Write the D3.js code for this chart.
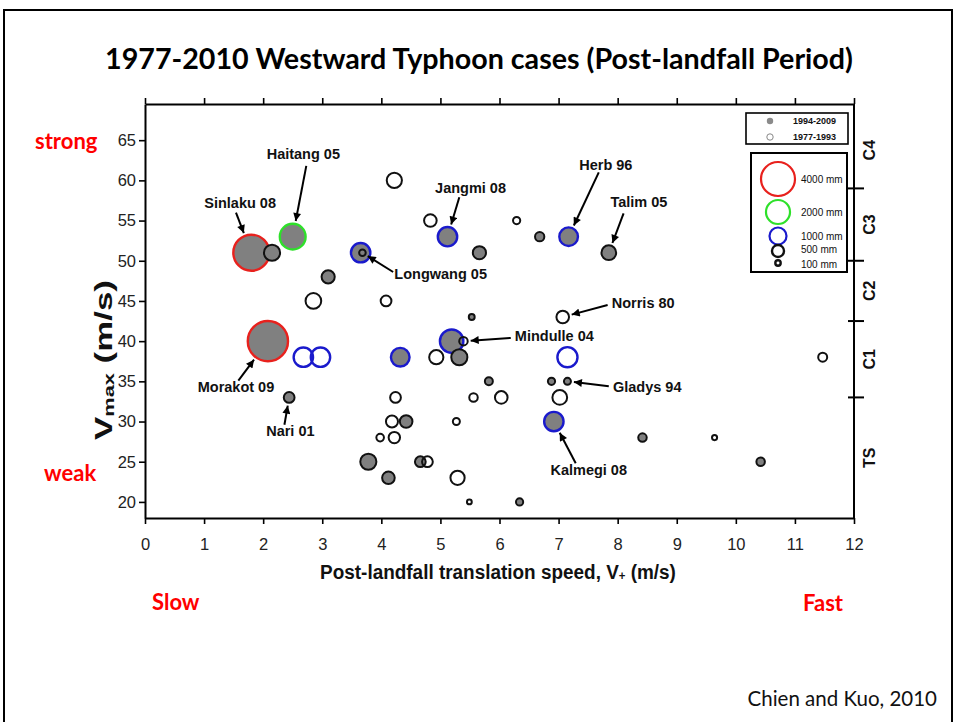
<!DOCTYPE html>
<html>
<head>
<meta charset="utf-8">
<script src="https://cdn.jsdelivr.net/npm/d3@7"></script>
<style>
  body { margin: 0; background: #fff; }
  svg { display: block; }
</style>
</head>
<body>
<script>
// ---- data ----
const xTicks = d3.range(0, 13);
const yTicks = [20, 25, 30, 35, 40, 45, 50, 55, 60, 65];
const catBounds = [33, 42.5, 50, 59];
const catLabels = ['TS', 'C1', 'C2', 'C3', 'C4'];
const legendRain = [4000, 2000, 1000, 500, 100];
const legendPeriods = ['1994-2009', '1977-1993'];

// typhoon cases: translation speed (m/s), Vmax (m/s), rainfall (mm), 1 = 1994-2009
const speed  = [1.80, 2.15, 2.50, 3.65, 3.68, 3.10, 2.85, 4.08, 4.22, 2.08,
                2.68, 2.97, 4.32, 2.44, 4.24, 4.18, 4.42, 3.98, 4.22, 3.78,
                4.12, 4.83, 5.12, 5.66, 6.29, 6.68, 7.17, 7.85, 5.53, 7.07,
                5.19, 5.39, 4.93, 5.32, 7.15, 5.82, 6.88, 7.15, 5.56, 6.03,
                7.02, 5.27, 6.92, 8.42, 4.66, 4.78, 5.29, 5.49, 6.34, 11.47,
                9.64, 10.42];
const vmax   = [51, 51, 53, 51, 51, 48, 45, 45, 60, 40,
                38, 38, 38, 33, 33, 30, 30, 28, 28, 25,
                23, 55, 53, 51, 55, 53, 53, 51, 43, 43,
                40, 40, 38, 38, 38, 35, 35, 35, 33, 33,
                33, 30, 30, 28, 25, 25, 23, 20, 20, 38,
                28, 25];
const rain   = [4500, 900, 2300, 1300, 150, 600, 850, 400, 800, 5600,
                1300, 1300, 1200, 400, 400, 500, 550, 200, 450, 900,
                550, 550, 1300, 600, 180, 300, 1200, 750, 120, 550,
                1900, 250, 700, 900, 1400, 220, 180, 170, 250, 550,
                750, 170, 1300, 250, 400, 400, 700, 80, 180, 280,
                90, 250];
const recent = [1, 1, 1, 1, 1, 1, 0, 0, 0, 1,
                0, 0, 1, 1, 0, 0, 1, 0, 0, 1,
                1, 0, 1, 1, 0, 1, 1, 1, 1, 0,
                1, 0, 0, 1, 0, 1, 1, 1, 0, 0,
                0, 0, 1, 1, 1, 0, 0, 0, 1, 0,
                0, 1];

// named cases: index into the arrays above, label position and arrow tail (data units)
const notes = [
  { name: 'Sinlaku 08',  i: 0,  tx: 1.61, ty: 57.2, ax: 1.54, ay: 56.0, anchor: 'middle' },
  { name: 'Haitang 05',  i: 2,  tx: 2.68, ty: 63.3, ax: 2.73, ay: 61.8, anchor: 'middle' },
  { name: 'Longwang 05', i: 4,  tx: 4.22, ty: 48.3, ax: 4.20, ay: 48.6, anchor: 'start' },
  { name: 'Jangmi 08',   i: 22, tx: 5.51, ty: 59.0, ax: 5.32, ay: 57.9, anchor: 'middle' },
  { name: 'Herb 96',     i: 26, tx: 7.80, ty: 61.9, ax: 7.68, ay: 61.0, anchor: 'middle' },
  { name: 'Talim 05',    i: 27, tx: 8.36, ty: 57.3, ax: 8.10, ay: 55.9, anchor: 'middle' },
  { name: 'Norris 80',   i: 29, tx: 7.90, ty: 44.7, ax: 7.83, ay: 44.5, anchor: 'start' },
  { name: 'Mindulle 04', i: 31, tx: 6.26, ty: 40.6, ax: 6.19, ay: 40.4, anchor: 'start' },
  { name: 'Gladys 94',   i: 37, tx: 7.92, ty: 34.3, ax: 7.85, ay: 34.4, anchor: 'start' },
  { name: 'Kalmegi 08',  i: 42, tx: 7.51, ty: 24.0, ax: 7.29, ay: 24.8, anchor: 'middle' },
  { name: 'Morakot 09',  i: 9,  tx: 1.54, ty: 34.3, ax: 1.58, ay: 35.1, anchor: 'middle' },
  { name: 'Nari 01',     i: 13, tx: 2.46, ty: 28.8, ax: 2.36, ay: 29.6, anchor: 'middle' }
];

// ---- page ----
const W = 955, H = 722;
const svg = d3.select('body').append('svg').attr('width', W).attr('height', H);

svg.append('rect')
  .attr('x', 4).attr('y', 10).attr('width', 948).attr('height', 760)
  .attr('fill', 'none').attr('stroke', '#000').attr('stroke-width', 2);

const slideFont = 'Lato, "Open Sans", sans-serif';
const chartFont = '"Liberation Sans", Arial, sans-serif';

function fitWidth(sel, w) {
  const cur = sel.node().getComputedTextLength();
  const fs = parseFloat(sel.attr('font-size'));
  sel.attr('font-size', fs * w / cur);
}

const title = svg.append('text')
  .attr('x', 479).attr('y', 58)
  .attr('text-anchor', 'middle').attr('dominant-baseline', 'central')
  .attr('font-family', slideFont).attr('font-weight', 700).attr('font-size', 28)
  .text('1977-2010 Westward Typhoon cases (Post-landfall Period)');
fitWidth(title, 748);

const x = d3.scaleLinear().domain([0, 12]).range([145, 854]);
const y = d3.scaleLinear().domain([18, 69.5]).range([518, 104]);
const r = d3.scaleSqrt().domain([0, 4000]).range([0, 17]);
const ringColor = v => v >= 4000 ? '#e8211d' : v >= 2000 ? '#2ee02a' : v >= 1000 ? '#1a1acc' : '#111';

// ---- axes / frame ----
const axisStyle = g => {
  g.select('.domain').attr('stroke', '#000').attr('stroke-width', 2);
  g.selectAll('.tick line').attr('stroke', '#000').attr('stroke-width', 1.6);
  g.selectAll('.tick text').attr('fill', '#222')
    .attr('font-family', chartFont).attr('font-size', 16.5);
};

svg.append('g').attr('transform', `translate(0,${y.range()[0]})`)
  .call(d3.axisBottom(x).tickValues(xTicks).tickSize(6).tickSizeOuter(0).tickPadding(14))
  .call(axisStyle);

svg.append('g').attr('transform', `translate(0,${y.range()[1]})`)
  .call(d3.axisTop(x).tickValues(xTicks).tickSize(6).tickSizeOuter(0).tickFormat(''))
  .call(axisStyle);

svg.append('g').attr('transform', `translate(${x.range()[0]},0)`)
  .call(d3.axisLeft(y).tickValues(yTicks).tickSize(6).tickSizeOuter(0).tickPadding(3))
  .call(axisStyle);

const right = svg.append('g').attr('transform', `translate(${x.range()[1]},0)`);
right.append('line')
  .attr('y1', y.range()[0]).attr('y2', y.range()[1])
  .attr('stroke', '#000').attr('stroke-width', 2);
right.selectAll('line.cat').data(catBounds).join('line')
  .attr('class', 'cat')
  .attr('x1', -6).attr('x2', 10)
  .attr('y1', d => y(d)).attr('y2', d => y(d))
  .attr('stroke', '#000').attr('stroke-width', 2);
const catEdges = [y.domain()[0], ...catBounds, y.domain()[1]];
right.selectAll('text').data(catLabels).join('text')
  .attr('transform', (d, i) => `translate(15,${(y(catEdges[i]) + y(catEdges[i + 1])) / 2 + (i === 4 ? 4 : 0)}) rotate(-90)`)
  .attr('text-anchor', 'middle').attr('dominant-baseline', 'central')
  .attr('font-family', chartFont).attr('font-weight', 700).attr('font-size', 16)
  .attr('fill', '#111')
  .text(d => d);

// axis titles (the original figure is squeezed sideways, so scale the text to match)
function stretched(sel, len) {
  const w = sel.node().getComputedTextLength();
  return len / w;
}

const xt = svg.append('text')
  .attr('text-anchor', 'middle').attr('dominant-baseline', 'central')
  .attr('font-family', chartFont).attr('font-weight', 700).attr('font-size', 20)
  .attr('fill', '#111');
xt.append('tspan').text('Post-landfall translation speed, V');
xt.append('tspan').attr('font-size', 12).attr('dy', 3).text('+');
xt.append('tspan').attr('dy', -3).text(' (m/s)');
xt.attr('transform', `translate(498,572) scale(${stretched(xt, 356)},1)`);

const yt = svg.append('text')
  .attr('text-anchor', 'middle').attr('dominant-baseline', 'central')
  .attr('font-family', chartFont).attr('font-weight', 700).attr('font-size', 24)
  .attr('fill', '#111');
yt.append('tspan').text('V');
yt.append('tspan').attr('font-size', 15).attr('dy', 5).text('max');
yt.append('tspan').attr('dy', -5).text(' (m/s)');
yt.attr('transform', `translate(103,360) rotate(-90) scale(${stretched(yt, 160)},1)`);

// ---- points ----
const cases = speed.map((s, i) => ({ s, v: vmax[i], mm: rain[i], recent: recent[i] }));
const order = d3.range(cases.length).sort((a, b) => cases[b].mm - cases[a].mm);

svg.append('g').selectAll('circle').data(order.map(i => cases[i])).join('circle')
  .attr('cx', d => x(d.s)).attr('cy', d => y(d.v))
  .attr('r', d => r(d.mm))
  .attr('fill', d => d.recent ? '#808080' : '#fff')
  .attr('fill-opacity', d => d.recent ? 1 : 0)
  .attr('stroke', d => ringColor(d.mm))
  .attr('stroke-width', d => d.mm >= 1000 ? 2.4 : 2);

// ---- annotations ----
svg.append('defs').append('marker')
  .attr('id', 'arrow').attr('viewBox', '0 0 10 10')
  .attr('refX', 10).attr('refY', 5)
  .attr('markerWidth', 10).attr('markerHeight', 8)
  .attr('markerUnits', 'userSpaceOnUse')
  .attr('orient', 'auto')
  .append('path').attr('d', 'M0,0L10,5L0,10Z').attr('fill', '#000');

const ann = svg.append('g');
notes.forEach(n => {
  const c = cases[n.i];
  const cx = x(c.s), cy = y(c.v);
  const sx = x(n.ax), sy = y(n.ay);
  const len = Math.hypot(sx - cx, sy - cy);
  const off = r(c.mm) + 3;
  ann.append('line')
    .attr('x1', sx).attr('y1', sy)
    .attr('x2', cx + (sx - cx) * off / len).attr('y2', cy + (sy - cy) * off / len)
    .attr('stroke', '#000').attr('stroke-width', 2)
    .attr('marker-end', 'url(#arrow)');
  ann.append('text')
    .attr('x', x(n.tx)).attr('y', y(n.ty))
    .attr('text-anchor', n.anchor).attr('dominant-baseline', 'central')
    .attr('font-family', chartFont).attr('font-weight', 700).attr('font-size', 14.5)
    .attr('fill', '#111')
    .text(n.name);
});

// ---- legends ----
const lg1 = svg.append('g').attr('transform', 'translate(746,113)');
lg1.append('rect').attr('width', 102).attr('height', 31)
  .attr('fill', '#fff').attr('stroke', '#000').attr('stroke-width', 1.6);
lg1.selectAll('circle').data(legendPeriods).join('circle')
  .attr('cx', 24).attr('cy', (d, i) => 8 + i * 16).attr('r', 3.2)
  .attr('fill', (d, i) => i ? '#fff' : '#8a8a8a')
  .attr('stroke', (d, i) => i ? '#888' : 'none').attr('stroke-width', 1);
lg1.selectAll('text').data(legendPeriods).join('text')
  .attr('x', 47).attr('y', (d, i) => 8 + i * 16)
  .attr('dominant-baseline', 'central')
  .attr('font-family', chartFont).attr('font-weight', 700).attr('font-size', 9)
  .attr('fill', '#111')
  .text(d => d);

const lgY = [26, 59, 83, 98, 110];
const lg2 = svg.append('g').attr('transform', 'translate(751,153)');
lg2.append('rect').attr('width', 96).attr('height', 119)
  .attr('fill', '#fff').attr('stroke', '#000').attr('stroke-width', 2);
lg2.selectAll('circle').data(legendRain).join('circle')
  .attr('cx', 27).attr('cy', (d, i) => lgY[i]).attr('r', d => r(d))
  .attr('fill', 'none').attr('stroke', d => ringColor(d))
  .attr('stroke-width', d => d >= 1000 ? 2.2 : 2.4);
lg2.selectAll('text').data(legendRain).join('text')
  .attr('x', 50).attr('y', (d, i) => lgY[i] + (i === 4 ? 1 : i === 3 ? -2 : 0))
  .attr('dominant-baseline', 'central')
  .attr('font-family', chartFont).attr('font-size', 10)
  .attr('fill', '#111')
  .text(d => `${d} mm`);

// ---- slide captions ----
const red = [
  { t: 'strong', x: 35, y: 140 },
  { t: 'weak', x: 44, y: 472 },
  { t: 'Slow', x: 152, y: 601 },
  { t: 'Fast', x: 803, y: 602 }
];
svg.selectAll('text.cap').data(red).join('text')
  .attr('class', 'cap')
  .attr('x', d => d.x).attr('y', d => d.y)
  .attr('dominant-baseline', 'central')
  .attr('font-family', slideFont).attr('font-weight', 700).attr('font-size', 22)
  .attr('fill', '#ff0000')
  .text(d => d.t);

svg.append('text')
  .attr('x', 937).attr('y', 698)
  .attr('text-anchor', 'end').attr('dominant-baseline', 'central')
  .attr('font-family', slideFont).attr('font-size', 20.5)
  .attr('fill', '#111')
  .text('Chien and Kuo, 2010');
</script>
</body>
</html>
